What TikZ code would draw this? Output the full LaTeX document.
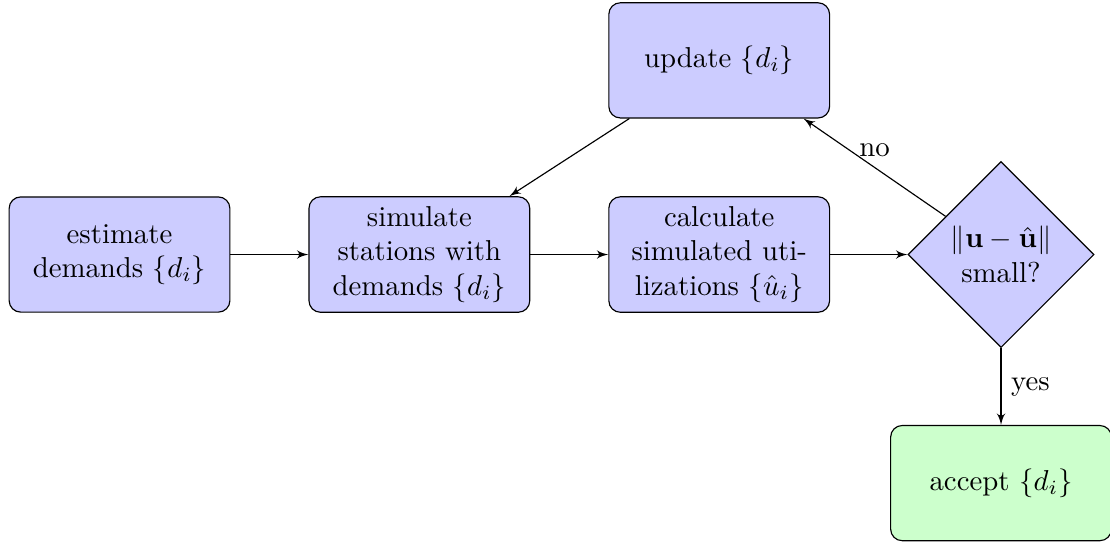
\documentclass[tikz,border=0pt]{standalone}
\usetikzlibrary{shapes.geometric,arrows}
\begin{document}
\begin{tikzpicture}[
    block/.style={draw=black, rectangle, rounded corners, fill=blue!20,
      text width=7em, align=center, minimum height=4em},
    decision/.style={draw=black, diamond, fill=blue!20,
      text width=4.5em, align=flush center, inner sep=0pt},
  ]
  \useasboundingbox (-1.459,-3.532) rectangle (12.09,3.107);
  \begin{scope}
    \begin{scope}[every node/.style={block}]
      \node (est) at (0,0) {estimate demands $\{d_i\}$};
      \node (sim) at (3.66,0) {simulate stations with demands $\{d_i\}$};
      \node (calc) at (7.32,0) {calculate simulated utilizations $\{\hat{u}_i\}$};
      \node (upd) at (7.32,2.37) {update $\{d_i\}$};
      \node[fill=green!20] (acc) at (10.76,-2.79) {accept $\{d_i\}$};
    \end{scope}
    \node[decision] (dec) at (10.76,0) {$\|\mathbf{u}-\hat{\mathbf{u}}\|$ small?};
    \begin{scope}[every edge/.style={draw=black, -latex'}]
      \path (est) edge (sim);
      \path (sim) edge (calc);
      \path (calc) edge (dec);
      \path (upd) edge (sim);
      \path (dec) edge node[above] {no} (upd);
      \path (dec) edge node[right] {yes} (acc);
    \end{scope}
  \end{scope}
\end{tikzpicture}
\end{document}
